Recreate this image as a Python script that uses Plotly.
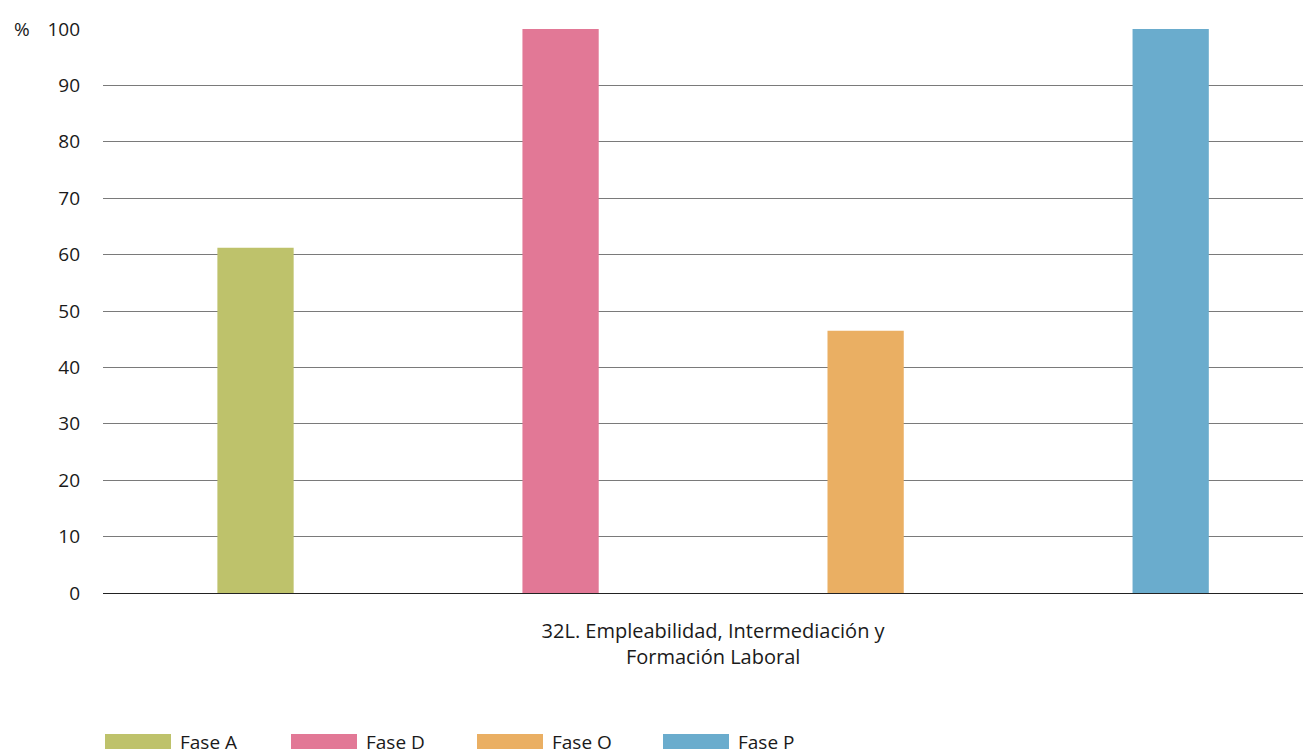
import plotly.graph_objects as go

category = ["32L. Empleabilidad, Intermediación y<br>Formación Laboral"]
series_names = ["Fase A", "Fase D", "Fase O", "Fase P"]
series_values = [61.2, 100, 46.5, 100]
colors = ["#BEC26B", "#E27896", "#EAAF63", "#6AACCD"]

font_family = "'Open Sans', 'DejaVu Sans', sans-serif"

# page has an 8px body margin, so the figure is shifted 8px right/down
W, H = 1303, 746
L, T, B = 95, 21, 161
PW, PH = W - L, H - T - B

fig = go.Figure()
for name, val, col in zip(series_names, series_values, colors):
    fig.add_trace(go.Bar(x=category, y=[val], name=name, marker_color=col,
                         marker_line_width=0, showlegend=False))

fig.update_layout(
    width=W, height=H,
    margin=dict(l=L, r=0, t=T, b=B),
    paper_bgcolor="white", plot_bgcolor="white",
    barmode="group", bargap=0, bargroupgap=0.75,
    font=dict(family=font_family, size=19, color="#1a1a1a"),
)
fig.update_xaxes(range=[-0.5, 0.49], showgrid=False, showline=True,
                 linecolor="#222", linewidth=1, ticks="",
                 ticklabelstandoff=20, tickfont=dict(size=20))
fig.update_yaxes(range=[0, 100], dtick=10, showgrid=True, gridcolor="#7a7a7a",
                 gridwidth=1, zeroline=False, ticks="", ticklabelstandoff=22,
                 tickfont=dict(size=19))

fig.add_annotation(text="%", xref="paper", yref="y", x=(4 - L) / PW, y=100,
                   xanchor="left", yanchor="middle", showarrow=False,
                   font=dict(size=19))

# manual legend with wide swatches (page coords minus 8px offset)
x0 = 105 - 8
step = 186
sw_top, sw_bot = 734 - 8, 749 - 8
plot_bot = T + PH
for i, (name, col) in enumerate(zip(series_names, colors)):
    left = x0 + i * step
    fig.add_shape(type="rect", xref="paper", yref="paper",
                  x0=(left - L) / PW, x1=(left + 66 - L) / PW,
                  y0=-(sw_bot - plot_bot) / PH, y1=-(sw_top - plot_bot) / PH,
                  fillcolor=col, line_width=0)
    fig.add_annotation(text=name, xref="paper", yref="paper",
                       x=(left + 73 - L) / PW,
                       y=-((sw_top + sw_bot) / 2 - plot_bot) / PH,
                       xanchor="left", yanchor="middle", showarrow=False,
                       font=dict(size=19))

fig.write_html("out.html")
